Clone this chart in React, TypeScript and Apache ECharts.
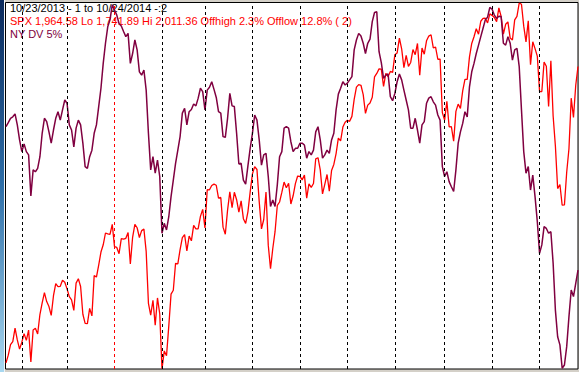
import React, { useEffect, useRef } from "react";
import * as echarts from "echarts";

// SPX daily closes, 10/23/2013 .. 10/24/2014 (one per trading day)
const spx = [
  // Oct 2013
  1746.38, 1752.07, 1759.77, 1762.11, 1771.95, 1763.31, 1756.54,
  // Nov 2013
  1761.64, 1767.93, 1762.97, 1770.49, 1747.15, 1770.61, 1771.89, 1767.69, 1782.0, 1790.62,
  1798.18, 1791.53, 1787.87, 1781.37, 1795.85, 1804.76, 1802.48, 1802.75, 1807.23, 1805.81,
  // Dec 2013
  1800.9, 1795.15, 1792.81, 1785.03, 1805.09, 1808.37, 1802.62, 1782.22, 1775.5, 1775.32,
  1786.54, 1781.0, 1810.65, 1809.6, 1818.32, 1827.99, 1833.32, 1842.02, 1841.4, 1841.07, 1848.36,
  // Jan 2014
  1831.98, 1831.37, 1826.77, 1837.88, 1837.49, 1838.13, 1842.37, 1819.2, 1838.88, 1848.38,
  1845.89, 1838.7, 1843.8, 1844.86, 1828.46, 1790.29, 1781.56, 1792.5, 1774.2, 1794.19, 1782.59,
  // Feb 2014
  1741.89, 1755.2, 1751.64, 1773.43, 1797.02, 1799.84, 1819.75, 1819.26, 1829.83, 1838.63,
  1840.76, 1828.75, 1839.78, 1836.25, 1847.61, 1845.12, 1845.16, 1854.29, 1859.45,
  // Mar 2014
  1845.73, 1873.91, 1873.81, 1877.03, 1878.04, 1877.17, 1867.63, 1868.2, 1846.34, 1841.13,
  1858.83, 1872.25, 1860.77, 1872.01, 1866.52, 1857.44, 1865.62, 1852.56, 1849.04, 1857.62, 1872.34,
  // Apr 2014
  1885.52, 1890.9, 1888.77, 1865.09, 1845.04, 1851.96, 1872.18, 1833.08, 1815.69, 1830.61,
  1842.98, 1862.31, 1864.85, 1871.89, 1879.55, 1875.39, 1878.61, 1863.4, 1869.43, 1878.33, 1883.95,
  // May 2014
  1883.68, 1881.14, 1884.66, 1867.72, 1878.21, 1875.63, 1878.48, 1896.65, 1897.45, 1888.53,
  1870.85, 1877.86, 1885.08, 1872.83, 1888.03, 1892.49, 1900.53, 1911.91, 1909.78, 1920.03, 1923.57,
  // Jun 2014
  1924.97, 1924.24, 1927.88, 1940.46, 1949.44, 1951.27, 1950.79, 1943.89, 1930.11, 1936.16,
  1937.78, 1941.99, 1956.98, 1959.48, 1962.87, 1962.61, 1949.98, 1959.53, 1957.22, 1960.96, 1960.23,
  // Jul 2014
  1973.32, 1974.62, 1985.44, 1977.65, 1963.71, 1972.83, 1964.68, 1967.57, 1977.1, 1973.28,
  1981.57, 1958.12, 1978.22, 1973.63, 1983.53, 1987.01, 1987.98, 1978.34, 1978.91, 1969.95, 1970.07, 1930.67,
  // Aug 2014
  1925.15, 1938.99, 1920.21, 1920.24, 1909.57, 1931.59, 1936.92, 1933.75, 1946.72, 1955.18,
  1955.06, 1971.74, 1981.6, 1986.51, 1992.37, 1988.4, 1997.92, 2000.02, 2000.12, 1996.74, 2003.37,
  // Sep 2014
  2002.28, 2000.72, 1997.65, 2007.71, 2001.54, 1988.44, 1995.69, 1997.45, 1985.54, 1984.13,
  1998.98, 2001.57, 2011.36, 2010.4, 1994.29, 1982.77, 1998.3, 1965.99, 1982.85, 1977.8, 1972.29,
  // Oct 2014
  1946.16, 1946.17, 1967.9, 1964.82, 1935.1, 1968.89, 1928.21, 1906.13, 1874.74, 1877.7,
  1862.49, 1862.76, 1886.76, 1904.01, 1941.28, 1927.11, 1950.82, 1964.58,
];

// NY DV 5% (scaled 0..100 over the panel)
const nydv = [
  66.2, 67.3, 68.5, 68.9, 69.7, 66.7, 62.6, 59.4, 61.5, 59.4,
  58.5, 47.3, 54.4, 53.9, 54.8, 58.0, 64.4, 68.5, 67.6, 64.8,
  61.7, 65.3, 68.5, 70.3, 68.0, 70.8, 73.5, 72.6, 66.7, 65.3,
  60.7, 65.8, 68.0, 66.7, 61.7, 55.3, 54.8, 58.0, 59.8, 64.4,
  66.7, 71.7, 76.7, 83.5, 89.0, 93.5, 95.4, 99.5, 98.1, 96.7,
  94.4, 93.7, 92.2, 90.8, 91.7, 83.5, 86.2, 89.9, 87.2, 81.2,
  80.3, 81.7, 76.2, 64.4, 54.4, 58.0, 53.5, 57.1, 52.6, 37.1,
  39.8, 38.0, 41.6, 47.1, 51.6, 56.2, 59.8, 63.5, 69.9, 71.2,
  66.7, 70.3, 70.9, 72.4, 71.9, 74.0, 76.7, 75.8, 70.8, 76.2,
  77.0, 78.5, 76.4, 74.2, 70.3, 69.9, 63.5, 63.3, 68.5, 75.3,
  71.9, 71.7, 64.4, 56.0, 56.2, 51.6, 50.5, 55.5, 60.3, 64.4,
  69.4, 68.0, 62.6, 55.7, 58.5, 58.9, 52.6, 44.4, 46.2, 44.4,
  50.3, 58.0, 59.4, 65.8, 66.2, 65.8, 62.1, 59.4, 60.3, 60.3,
  61.7, 61.7, 61.2, 57.6, 59.4, 58.5, 59.8, 64.8, 66.2, 62.6,
  57.6, 58.5, 59.8, 58.9, 62.6, 64.4, 70.8, 75.1, 76.7, 78.5,
  77.6, 78.1, 79.0, 79.9, 87.2, 89.9, 91.7, 91.0, 89.0, 86.2,
  89.0, 90.1, 94.9, 97.4, 97.6, 86.7, 83.7, 79.4, 80.3, 80.6,
  74.4, 73.3, 75.3, 78.5, 80.6, 79.0, 76.2, 73.5, 70.8, 65.8,
  65.8, 68.5, 65.3, 61.7, 66.7, 67.6, 72.6, 74.0, 74.4, 73.0,
  72.1, 69.4, 68.0, 55.3, 52.6, 53.9, 51.2, 49.8, 48.5, 54.4,
  61.7, 64.8, 67.1, 70.3, 68.9, 77.1, 81.2, 83.5, 86.2, 88.5,
  90.8, 93.1, 95.4, 96.1, 98.8, 98.3, 96.7, 95.8, 96.4, 96.3,
  89.0, 88.5, 90.8, 89.0, 84.4, 87.2, 87.6, 82.6, 70.8, 59.4,
  53.5, 55.3, 48.9, 53.0, 47.1, 40.3, 31.6, 33.9, 38.9, 38.4,
  37.1, 37.5, 28.9, 16.1, 8.8, 6.6, 0.2, 1.1, 6.1, 14.3,
  21.6, 19.8, 23.4, 27.0,
];

// trading-day indices of the first session of each month
const monthLines = [7, 27, 69, 88, 109, 130, 151, 172, 194, 215, 236];
const yearLines = [48];

const spxLo = 1741.89;
const spxHi = 2011.36;

const headerTexts = [
  "10/23/2013 - 1 to 10/24/2014 -:2",
  "SPX 1,964.58 Lo 1,741.89 Hi 2,011.36 Offhigh 2.3% Offlow 12.8% ( 2)",
  "NY DV 5%",
];
const headerColors = ["#000000", "#ff0000", "#800040"];

const days = spx.map((_, i) => i);

const W = 579;
const H = 372;

export default function App() {
  const ref = useRef<HTMLDivElement>(null);
  useEffect(() => {
    if (!ref.current) return;
    const chart = echarts.init(ref.current, undefined, { renderer: "svg", width: W, height: H });
    const font = '11px "Liberation Sans", Arial, sans-serif';
    const option = {
      animation: false,
      backgroundColor: "#d4d0c8",
      grid: { left: 6, right: 1, top: 3, bottom: 3 },
      xAxis: { type: "category", data: days, boundaryGap: false, show: false },
      yAxis: [
        { type: "value", min: spxLo, max: spxHi, show: false },
        { type: "value", min: 0, max: 100, show: false },
      ],
      series: [
        {
          name: "SPX",
          type: "line",
          data: spx,
          yAxisIndex: 0,
          symbol: "none",
          lineStyle: { color: "#ff0000", width: 1.3 },
          z: 3,
          markLine: {
            silent: true,
            symbol: ["none", "none"],
            label: { show: false },
            lineStyle: { type: [3, 3], color: "#000000", width: 1 },
            data: [
              ...monthLines.map((i) => ({ xAxis: i })),
              ...yearLines.map((i) => ({
                xAxis: i,
                lineStyle: { type: [3, 3], color: "#ff0000", width: 1 },
              })),
            ],
          },
        },
        {
          name: "NY DV 5%",
          type: "line",
          data: nydv,
          yAxisIndex: 1,
          symbol: "none",
          lineStyle: { color: "#800040", width: 1.5 },
          z: 4,
        },
      ],
      graphic: [
        {
          type: "rect",
          z: -10,
          silent: true,
          shape: { x: 0, y: 0, width: W, height: H },
          style: { fill: "#d4d0c8" },
        },
        {
          type: "rect",
          z: -9,
          silent: true,
          shape: { x: 0, y: 0, width: 4, height: H },
          style: {
            fill: new echarts.graphic.LinearGradient(0, 0, 0, 1, [
              { offset: 0, color: "#0b2a5c" },
              { offset: 0.5, color: "#2f6fa8" },
              { offset: 1, color: "#a8d8f0" },
            ]),
          },
        },
        {
          type: "rect",
          z: -9,
          silent: true,
          shape: { x: 4, y: 0, width: 1, height: H },
          style: { fill: "#f4f4f4" },
        },
        {
          type: "rect",
          z: -8,
          silent: true,
          shape: { x: 5.5, y: 2.5, width: 572.5, height: 366.5 },
          style: { fill: "#ffffff", stroke: "#000000", lineWidth: 1 },
        },
        ...headerTexts.map((t, k) => ({
          type: "text",
          z: 1,
          silent: true,
          x: 10,
          y: 2 + k * 13.2,
          style: {
            text: t,
            fill: headerColors[k],
            font,
            verticalAlign: "top",
            textVerticalAlign: "top",
            align: "left",
          },
        })),
      ],
    };
    chart.setOption(option as any);
    return () => chart.dispose();
  }, []);
  return (
    <div
      ref={ref}
      style={{ position: "fixed", left: 0, top: 0, width: W, height: H }}
    />
  );
}
